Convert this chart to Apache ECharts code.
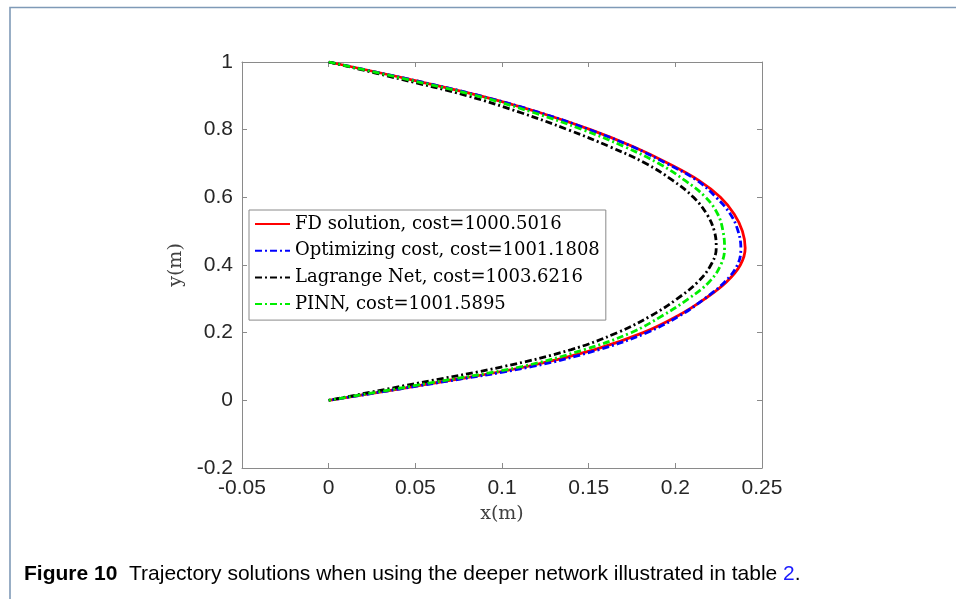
<!DOCTYPE html>
<html>
<head>
<meta charset="utf-8">
<title>Trajectory solutions</title>
<script src="https://cdn.jsdelivr.net/npm/echarts@6/dist/echarts.min.js"></script>
<style>
  html, body { margin: 0; padding: 0; background: #ffffff; }
  #chart { width: 956px; height: 599px; }
</style>
</head>
<body>
<div id="chart"></div>
<script>
// Height levels (m) at which each trajectory's horizontal position is sampled
const yLevels = [1, 0.95, 0.9, 0.85, 0.8, 0.75, 0.7, 0.65, 0.6, 0.55, 0.5,
                 0.45, 0.4, 0.35, 0.3, 0.25, 0.2, 0.15, 0.1, 0.05, 0];

// Horizontal position x(m) of each method at those heights
const fdX   = [0, 0.0455, 0.0875, 0.122, 0.151, 0.1755, 0.196, 0.2135, 0.226, 0.234, 0.2387,
               0.2403, 0.2375, 0.2295, 0.217, 0.2015, 0.1815, 0.1535, 0.1145, 0.0595, 0];
const optX  = [0, 0.0455, 0.0875, 0.122, 0.1505, 0.175, 0.195, 0.2125, 0.2235, 0.2318, 0.2362,
               0.2378, 0.2358, 0.2285, 0.2168, 0.2025, 0.1835, 0.1560, 0.1175, 0.0605, 0];
const lagX  = [0, 0.041, 0.080, 0.111, 0.138, 0.162, 0.183, 0.1985, 0.2105, 0.2182, 0.2225,
               0.2236, 0.2205, 0.213, 0.201, 0.186, 0.1665, 0.140, 0.101, 0.0505, 0];
const pinnX = [0, 0.044, 0.0855, 0.1185, 0.1465, 0.1705, 0.1905, 0.2055, 0.2175, 0.2245, 0.2275,
               0.2284, 0.2262, 0.2195, 0.2075, 0.1925, 0.1745, 0.1475, 0.1115, 0.057, 0];

// Legend names
const seriesNames = [
  'FD solution, cost=1000.5016',
  'Optimizing cost, cost=1001.1808',
  'Lagrange Net, cost=1003.6216',
  'PINN, cost=1001.5895'
];

// Axis ranges
const xRange = { min: -0.05, max: 0.25, interval: 0.05 };
const yRange = { min: -0.2, max: 1, interval: 0.2 };

const captionLabel = 'Figure 10';
const captionBody = 'Trajectory solutions when using the deeper network illustrated in table ';
const captionRef = '2';

const toPoints = xs => xs.map((x, i) => [x, yLevels[i]]);

const AXIS_GRAY = '#8a8a8a';
const TICK_TEXT = '#262626';
const dashDot = [7, 3, 2, 3];
const LINE_W = 2.8;

function boxAxis(extra) {
  return Object.assign({
    type: 'value',
    axisLine: { show: true, onZero: false, lineStyle: { color: AXIS_GRAY, width: 1 } },
    axisTick: { show: true, inside: true, length: 5, lineStyle: { color: AXIS_GRAY, width: 1 } },
    splitLine: { show: false },
    axisLabel: { show: false }
  }, extra);
}

const chart = echarts.init(document.getElementById('chart'), null, { renderer: 'canvas' });

chart.setOption({
  animation: false,
  backgroundColor: '#ffffff',
  grid: { left: 242, top: 62, width: 520, height: 406, containLabel: false },
  xAxis: [
    boxAxis(Object.assign({}, xRange, {
      position: 'bottom',
      name: 'x(m)',
      nameLocation: 'middle',
      nameGap: 37,
      nameTextStyle: { fontFamily: 'DejaVu Serif', fontSize: 19, color: '#404040' },
      axisLabel: {
        show: true, margin: 10, color: TICK_TEXT,
        fontFamily: 'Liberation Sans', fontSize: 21,
        formatter: v => String(+v.toFixed(2))
      }
    })),
    boxAxis(Object.assign({}, xRange, { position: 'top' }))
  ],
  yAxis: [
    boxAxis(Object.assign({}, yRange, {
      position: 'left',
      name: 'y(m)',
      nameLocation: 'middle',
      nameGap: 52,
      nameTextStyle: { fontFamily: 'DejaVu Serif', fontSize: 19, color: '#404040' },
      axisLabel: {
        show: true, margin: 9, color: TICK_TEXT,
        fontFamily: 'Liberation Sans', fontSize: 21,
        formatter: v => String(+v.toFixed(2))
      }
    })),
    boxAxis(Object.assign({}, yRange, { position: 'right' }))
  ],
  legend: {
    show: true,
    orient: 'vertical',
    left: 249,
    top: 210,
    padding: [4, 6, 6, 5],
    itemWidth: 35,
    itemHeight: 14,
    itemGap: 6.7,
    backgroundColor: '#ffffff',
    borderColor: '#8a8a8a',
    borderWidth: 1,
    borderRadius: 0,
    itemStyle: { opacity: 0 },
    textStyle: { fontFamily: 'DejaVu Serif', fontSize: 18, color: '#000000', lineHeight: 20 },
    data: seriesNames
  },
  series: [
    {
      name: seriesNames[0], type: 'line', data: toPoints(fdX),
      smooth: 0.4, symbol: 'none', z: 2,
      lineStyle: { color: '#ff0000', width: LINE_W, type: 'solid' },
      itemStyle: { color: '#ff0000' }
    },
    {
      name: seriesNames[1], type: 'line', data: toPoints(optX),
      smooth: 0.4, symbol: 'none', z: 3,
      lineStyle: { color: '#0000ff', width: LINE_W, type: dashDot },
      itemStyle: { color: '#0000ff' }
    },
    {
      name: seriesNames[2], type: 'line', data: toPoints(lagX),
      smooth: 0.4, symbol: 'none', z: 4,
      lineStyle: { color: '#000000', width: LINE_W, type: dashDot },
      itemStyle: { color: '#000000' }
    },
    {
      name: seriesNames[3], type: 'line', data: toPoints(pinnX),
      smooth: 0.4, symbol: 'none', z: 5,
      lineStyle: { color: '#00ee00', width: LINE_W, type: dashDot },
      itemStyle: { color: '#00ee00' }
    }
  ],
  graphic: [
    {
      type: 'rect', silent: true, z: 0,
      shape: { x: 10, y: 7.5, width: 1200, height: 900 },
      style: { fill: 'none', stroke: '#7f9ab7', lineWidth: 1.6 }
    },
    {
      type: 'text', left: 24, top: 564, silent: true,
      style: {
        text: '{b|' + captionLabel + '}  ' + captionBody + '{l|' + captionRef + '}.',
        fontFamily: 'Liberation Sans', fontSize: 21, fill: '#000000',
        rich: {
          b: { fontFamily: 'Liberation Sans', fontSize: 21, fontWeight: 'bold', fill: '#000000' },
          l: { fontFamily: 'Liberation Sans', fontSize: 21, fill: '#1a1aff' }
        }
      }
    }
  ]
});
</script>
</body>
</html>
